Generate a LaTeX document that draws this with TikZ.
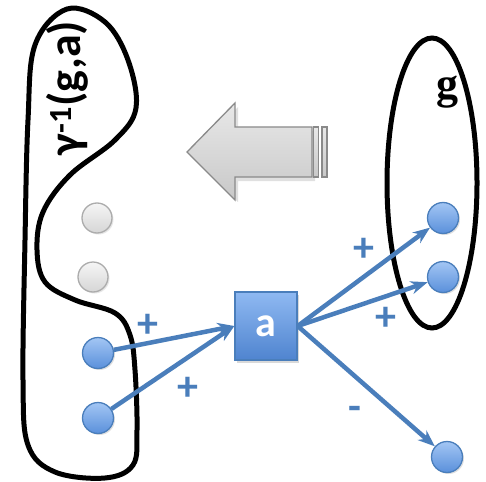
\documentclass[tikz,border=0pt]{standalone}
\usepackage{fontspec}
\setmainfont{Carlito}
\newfontfamily\serifbold{Liberation Serif}
\usetikzlibrary{arrows.meta,shadows}
\definecolor{lineblue}{HTML}{4A7EBB}
\definecolor{topblue}{HTML}{A3C6F4}
\definecolor{botblue}{HTML}{5A90DB}
\definecolor{sqtop}{HTML}{8FB9F2}
\definecolor{sqbot}{HTML}{4F84CF}
\definecolor{graytop}{HTML}{E8E8E8}
\definecolor{graybot}{HTML}{C8C8C8}
\definecolor{grayline}{HTML}{8A8A8A}
\tikzset{
  bluedot/.style={circle, minimum size=31pt, inner sep=0pt, draw=lineblue, line width=1.3pt,
    top color=topblue, bottom color=botblue, drop shadow={opacity=0.25, shadow xshift=1.5pt, shadow yshift=-1.5pt}},
  graydot/.style={circle, minimum size=30pt, inner sep=0pt, draw=gray!65, line width=1.3pt,
    top color=gray!8, bottom color=gray!32, drop shadow={opacity=0.2, shadow xshift=1.5pt, shadow yshift=-1.5pt}},
  sqbox/.style={rectangle, minimum width=62pt, minimum height=68pt, inner sep=0pt, draw=lineblue, line width=1.3pt,
    top color=sqtop, bottom color=sqbot, text=white, font=\bfseries\fontsize{42}{44}\selectfont,
    drop shadow={opacity=0.3, shadow xshift=2pt, shadow yshift=-3pt}},
  conn/.style={draw=lineblue, line width=4.5pt, -{Stealth[length=17pt,width=13pt]}},
  sign/.style={text=lineblue, font=\bfseries\fontsize{42}{44}\selectfont, inner sep=0pt},
  outline/.style={draw=black, line width=5pt},
}
\begin{document}
\begin{tikzpicture}[x=1pt,y=-1pt]
\useasboundingbox (0,0) rectangle (486,481);
% left blob
\draw[outline] plot[smooth cycle, tension=0.6] coordinates {
 (67,9) (105,22) (128,60) (136,108) (115,140) (70,175) (43,212) (37,250) (45,282) (75,300)
 (115,313) (130,335) (135,370) (137,430) (133,465) (105,478) (55,472) (28,445) (23,380)
 (25,240) (28,120) (35,45)};
\node[rotate=90, font=\bfseries\fontsize{46}{48}\selectfont, inner sep=0pt] (lbl) at (67,88) {γ\textsuperscript{-1}(g,a)};
% right ellipse
\draw[outline] (432,183) ellipse [x radius=45, y radius=145];
\node[font=\serifbold\bfseries\fontsize{44}{46}\selectfont, inner sep=0pt] (glbl) at (447,92) {g};
% big gray arrow
\fill[black, opacity=0.12] (190,156) -- (238,107) -- (238,131) -- (315,131) -- (315,181) -- (238,181) -- (238,202) -- cycle;
\draw[draw=grayline, line width=1.3pt, top color=graytop, bottom color=graybot]
  (187,152) -- (235,103) -- (235,127) -- (312,127) -- (312,177) -- (235,177) -- (235,200) -- cycle;
\draw[draw=grayline, line width=1.1pt, top color=graytop, bottom color=graybot] (313.5,127) rectangle (318.5,177);
\draw[draw=grayline, line width=1.1pt, top color=graytop, bottom color=graybot] (322,127) rectangle (327,177);
% nodes
\node[graydot] (g1) at (97,218) {};
\node[graydot] (g2) at (93,277) {};
\node[bluedot] (l1) at (98,353) {};
\node[bluedot] (l2) at (98,418) {};
\node[sqbox] (a) at (266,326) {a};
\node[bluedot] (r1) at (443,218) {};
\node[bluedot] (r2) at (443,277) {};
\node[bluedot] (r3) at (447,457) {};
% connectors
\draw[conn] (l1) -- (a.west);
\draw[conn] (l2) -- (a.west);
\draw[conn] (a.east) -- (r1);
\draw[conn] (a.east) -- (r2);
\draw[conn] (a.east) -- (r3);
% signs
\node[sign] (p1) at (148,326) {+};
\node[sign] (p2) at (188,389) {+};
\node[sign] (p3) at (364,250) {+};
\node[sign] (p4) at (386,319) {+};
\node[sign] (m1) at (355,413) {-};
\end{tikzpicture}
\end{document}
